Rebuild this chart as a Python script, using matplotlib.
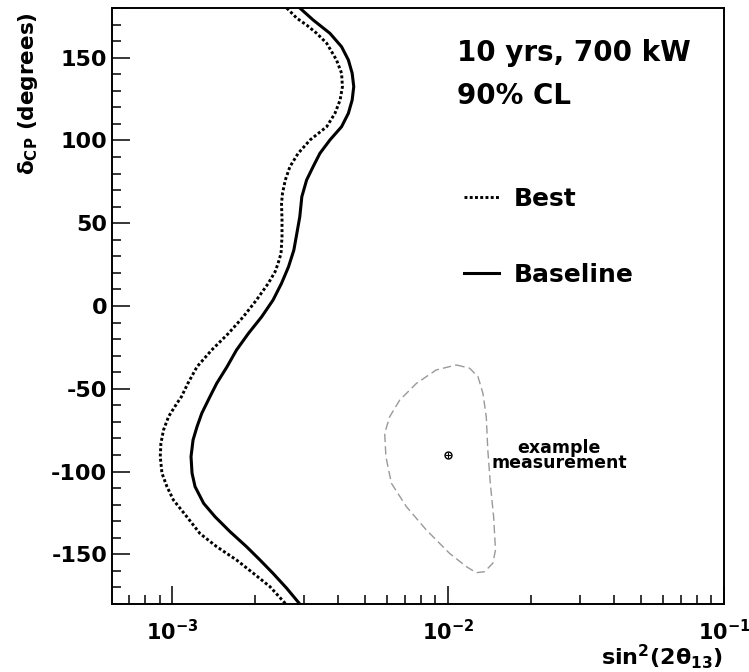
import math
import matplotlib
matplotlib.use('Agg')
import matplotlib.pyplot as plt
from matplotlib.ticker import MultipleLocator, FuncFormatter, NullFormatter, LogLocator

plt.rcParams['font.family'] = ['DejaVu Sans']
plt.rcParams['font.weight'] = 'bold'
plt.rcParams['axes.unicode_minus'] = False
plt.rcParams['mathtext.default'] = 'bf'

# delta_CP (deg) and sin^2(2theta13)
base_delta = [180, 172.8, 164.7, 156.6, 148.6, 140.6, 132.5, 124.4, 116.4, 108.3, 100.3, 92.2, 84.1, 76.1, 66,
              53.9, 43.9, 33.8, 23.7, 13.7, 3.6, -6.5, -16.5, -26.6, -36.7, -46.7, -54.8, -64.8, -72.9, -80.9,
              -91, -101, -109.1, -119.2, -127.3, -136.3, -145.4, -153.4, -161.5, -170.5, -180]
base_s2 = [2.90e-3, 3.24e-3, 3.73e-3, 4.11e-3, 4.35e-3, 4.49e-3, 4.55e-3, 4.49e-3, 4.35e-3, 4.11e-3, 3.73e-3,
           3.43e-3, 3.24e-3, 3.07e-3, 2.95e-3, 2.90e-3, 2.83e-3, 2.76e-3, 2.64e-3, 2.49e-3, 2.32e-3, 2.11e-3,
           1.89e-3, 1.71e-3, 1.58e-3, 1.45e-3, 1.37e-3, 1.28e-3, 1.23e-3, 1.19e-3, 1.17e-3, 1.18e-3, 1.21e-3,
           1.30e-3, 1.43e-3, 1.62e-3, 1.86e-3, 2.08e-3, 2.32e-3, 2.60e-3, 2.90e-3]

best_delta = [180, 173.8, 169.7, 164.7, 158.7, 148.6, 140.6, 132.5, 124.4, 116.4, 108.3, 100.3, 92.2, 84.1, 76.1,
              68, 62, 52, 41.9, 31.8, 25.8, 20.7, 13.7, 3.6, -6.5, -16.5, -26.6, -36.7, -46.7, -54.8, -58.8, -66.8,
              -74.9, -82.9, -91, -101, -109.1, -117.2, -127.3, -137.4, -145.4, -153.4, -161.5, -169.5, -180]
best_s2 = [2.60e-3, 2.83e-3, 3.07e-3, 3.34e-3, 3.63e-3, 3.94e-3, 4.11e-3, 4.14e-3, 4.06e-3, 3.89e-3, 3.63e-3,
           3.16e-3, 2.86e-3, 2.67e-3, 2.57e-3, 2.51e-3, 2.49e-3, 2.50e-3, 2.50e-3, 2.48e-3, 2.42e-3, 2.36e-3,
           2.23e-3, 2.02e-3, 1.81e-3, 1.60e-3, 1.39e-3, 1.23e-3, 1.14e-3, 1.08e-3, 1.04e-3, 9.7e-4, 9.3e-4,
           9.1e-4, 9.05e-4, 9.18e-4, 9.57e-4, 1.01e-3, 1.13e-3, 1.26e-3, 1.45e-3, 1.71e-3, 1.97e-3, 2.26e-3,
           2.58e-3]

# example measurement contour (closed)
meas_delta = [-35.6, -37.6, -42.7, -52.7, -66.9, -87, -107.1, -127.3, -147.4, -155.4, -160.5, -161.1, -157.4,
              -149.4, -135.3, -121.2, -107.1, -91, -76.9, -66.9, -56.8, -46.7, -38.6, -35.6]
meas_s2 = [1.072e-2, 1.197e-2, 1.283e-2, 1.337e-2, 1.375e-2, 1.393e-2, 1.422e-2, 1.462e-2, 1.485e-2, 1.452e-2,
           1.355e-2, 1.265e-2, 1.164e-2, 1.012e-2, 8.34e-3, 7.06e-3, 6.23e-3, 5.95e-3, 5.89e-3, 6.14e-3,
           6.68e-3, 7.68e-3, 9.06e-3, 1.072e-2]
meas_x, meas_y = 1.0e-2, -90

fig = plt.figure(figsize=(7.49, 6.72), dpi=100)
ax = fig.add_axes([112/749, 68/672, 612/749, 596/672])

ax.plot(best_s2, best_delta, color='black', lw=2.1, linestyle=(0, (1, 0.8)), label='Best')
ax.plot(base_s2, base_delta, color='black', lw=2.2, label='Baseline')
ax.plot(meas_s2, meas_delta, color='#999999', lw=1.0, linestyle=(0, (6, 3)))
ax.plot([meas_x], [meas_y], marker='o', ms=5, mfc='white', mec='black', mew=1.0)
ax.plot([meas_x], [meas_y], marker='+', ms=5, color='black', mew=0.8)
ax.text(0.0253, -90.5, 'example\nmeasurement', ha='center', va='center', fontsize=12.5,
        fontweight='bold', linespacing=0.8)

ax.set_xscale('log')
ax.set_xlim(6.05e-4, 1e-1)
ax.set_ylim(-180, 180)

ax.yaxis.set_major_locator(MultipleLocator(50))
ax.yaxis.set_minor_locator(MultipleLocator(10))
ax.xaxis.set_major_locator(LogLocator(base=10))
ax.xaxis.set_minor_locator(LogLocator(base=10, subs=range(2, 10)))
ax.xaxis.set_major_formatter(FuncFormatter(lambda v, p: r'$\mathbf{10^{%d}}$' % round(math.log10(v))))
ax.xaxis.set_minor_formatter(NullFormatter())

ax.tick_params(which='both', direction='in', top=False, right=False, width=1.1)
ax.tick_params(which='major', length=13)
ax.tick_params(which='minor', length=6.5)
ax.tick_params(axis='y', labelsize=16, pad=3.5)
ax.tick_params(axis='x', labelsize=15, pad=11)
for s in ax.spines.values():
    s.set_linewidth(1.4)

ax.text(0.564, 0.925, '10 yrs, 700 kW', transform=ax.transAxes, fontsize=20, fontweight='bold', va='center')
ax.text(0.563, 0.853, '90% CL', transform=ax.transAxes, fontsize=20, fontweight='bold', va='center')

ax.legend(loc='center left', bbox_to_anchor=(0.575, 0.616), frameon=False, fontsize=18,
          handlelength=1.4, handletextpad=0.6, labelspacing=2.1, borderpad=0, borderaxespad=0)

fig.text(723/749, 0.002, r'$\mathbf{sin^{2}(2\theta_{13})}$', ha='right', va='bottom', fontsize=16)
fig.text(28/749, 1 - 12/672, r'$\mathrm{\delta_{CP}}\ \mathbf{(degrees)}$', rotation=90,
         ha='center', va='top', fontsize=15.5)

fig.savefig('out.png', dpi=100)
